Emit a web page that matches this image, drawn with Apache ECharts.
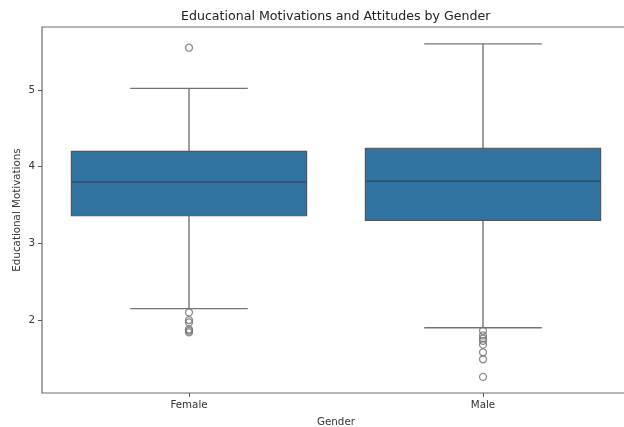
<!DOCTYPE html>
<html>
<head>
<meta charset="utf-8">
<script src="https://cdn.jsdelivr.net/npm/echarts@6/dist/echarts.min.js"></script>
<style>
  html, body { margin: 0; padding: 0; background: #fff; }
  #chart { width: 624px; height: 427px; }
</style>
</head>
<body>
<div id="chart"></div>
<script>
// Box-plot summary per gender
const categories = ['Female', 'Male'];
const whiskerLow  = [2.15, 1.90];
const q1          = [3.36, 3.30];
const median      = [3.80, 3.81];
const q3          = [4.20, 4.24];
const whiskerHigh = [5.02, 5.60];
// Points beyond the whiskers
const outliersFemale = [5.55, 2.10, 2.00, 1.97, 1.88, 1.86, 1.84];
const outliersMale   = [1.86, 1.80, 1.76, 1.73, 1.68, 1.58, 1.49, 1.26];
const yTicks = [2, 3, 4, 5];

const FONT = 'DejaVu Sans';
const BOX_FILL = '#3274a1';
const LINE = '#747474';

const boxData = categories.map((c, i) => [i, whiskerLow[i], q1[i], median[i], q3[i], whiskerHigh[i]]);
const outlierData = []
  .concat(outliersFemale.map(v => [0, v]))
  .concat(outliersMale.map(v => [1, v]));

function renderBox(params, api) {
  const idx = api.value(0);
  const band = api.size([1, 0])[0];
  const boxW = band * 0.8;
  const capW = boxW * 0.5;
  const pLow = api.coord([idx, api.value(1)]);
  const pQ1 = api.coord([idx, api.value(2)]);
  const pMed = api.coord([idx, api.value(3)]);
  const pQ3 = api.coord([idx, api.value(4)]);
  const pHigh = api.coord([idx, api.value(5)]);
  const x = pQ1[0];
  const lineStyle = { stroke: LINE, lineWidth: 1.4, fill: null };
  return {
    type: 'group',
    children: [
      { type: 'line', shape: { x1: x, y1: pQ3[1], x2: x, y2: pHigh[1] }, style: lineStyle },
      { type: 'line', shape: { x1: x, y1: pQ1[1], x2: x, y2: pLow[1] }, style: lineStyle },
      { type: 'line', shape: { x1: x - capW / 2, y1: pHigh[1], x2: x + capW / 2, y2: pHigh[1] }, style: lineStyle },
      { type: 'line', shape: { x1: x - capW / 2, y1: pLow[1], x2: x + capW / 2, y2: pLow[1] }, style: lineStyle },
      { type: 'rect', shape: { x: x - boxW / 2, y: pQ3[1], width: boxW, height: pQ1[1] - pQ3[1] },
        style: { fill: BOX_FILL, stroke: '#555', lineWidth: 1.2 } },
      { type: 'line', shape: { x1: x - boxW / 2, y1: pMed[1], x2: x + boxW / 2, y2: pMed[1] },
        style: { stroke: '#3a4d5e', lineWidth: 1.4 } }
    ]
  };
}

const chart = echarts.init(document.getElementById('chart'), null, { renderer: 'canvas' });
chart.setOption({
  animation: false,
  backgroundColor: '#ffffff',
  title: {
    text: 'Educational Motivations and Attitudes by Gender',
    left: 176,
    top: 5,
    textStyle: { fontFamily: FONT, fontSize: 12.6, fontWeight: 'normal', color: '#222' }
  },
  grid: {
    left: 42, top: 27, width: 588, height: 366,
    outerBoundsMode: 'none',
    containLabel: false,
    show: true, borderColor: '#6a6a6a', borderWidth: 1.2, backgroundColor: 'transparent'
  },
  xAxis: {
    type: 'category',
    data: categories,
    boundaryGap: true,
    name: 'Gender',
    nameLocation: 'middle',
    nameGap: 24,
    nameMoveOverlap: false,
    nameTextStyle: { fontFamily: FONT, fontSize: 10.3, color: '#333' },
    axisLine: { show: false },
    axisTick: { show: true, alignWithLabel: true, length: 4, lineStyle: { color: '#555' } },
    axisLabel: { fontFamily: FONT, fontSize: 10.3, color: '#333', margin: 7 },
    splitLine: { show: false }
  },
  yAxis: {
    type: 'value',
    min: 1.05,
    max: 5.82,
    name: 'Educational Motivations',
    nameLocation: 'middle',
    nameGap: 20,
    nameMoveOverlap: false,
    nameTextStyle: { fontFamily: FONT, fontSize: 10.3, color: '#333' },
    axisLine: { show: false },
    axisTick: { show: true, length: 4, customValues: yTicks, lineStyle: { color: '#555' } },
    axisLabel: { fontFamily: FONT, fontSize: 10.3, color: '#333', margin: 7, customValues: yTicks },
    splitLine: { show: false }
  },
  series: [
    {
      type: 'custom',
      renderItem: renderBox,
      data: boxData,
      encode: { x: 0, y: [1, 2, 3, 4, 5] },
      z: 2
    },
    {
      type: 'scatter',
      data: outlierData,
      symbol: 'circle',
      symbolSize: 7,
      itemStyle: { color: 'rgba(255,255,255,0)', borderColor: '#707070', borderWidth: 1.3 },
      z: 3
    }
  ]
});
</script>
</body>
</html>
